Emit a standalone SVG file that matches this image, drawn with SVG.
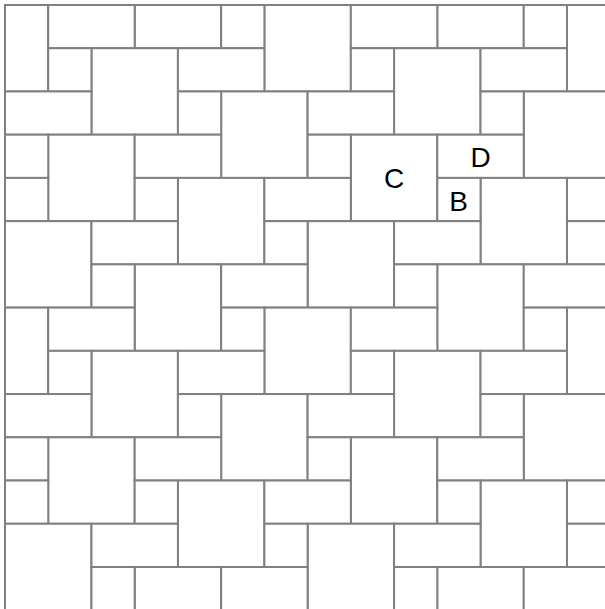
<svg xmlns="http://www.w3.org/2000/svg" xmlns:xlink="http://www.w3.org/1999/xlink" width="605" height="609" viewBox="0 0 605 609">
<style>
.t{fill:#ffffff;stroke:#808080;stroke-width:0.04626}
.b{stroke:#808080;stroke-width:2;fill:none}
.lbl{font-family:"Liberation Sans",Arial,sans-serif;font-size:28px;fill:#000;text-anchor:middle}
</style>
<defs>
<g id="cell" class="t">
<rect x="0" y="0" width="2" height="2"/>
<rect x="-1" y="0" width="1" height="1"/>
<rect x="2" y="0" width="2" height="1"/>
</g>
<clipPath id="clip"><rect x="5" y="5" width="600" height="604"/></clipPath>
</defs>
<rect x="0" y="0" width="605" height="609" fill="#ffffff"/>
<g id="tiles" clip-path="url(#clip)">
<g transform="translate(5,5) scale(43.23)">
<use xlink:href="#cell" x="3" y="-1"/><use xlink:href="#cell" x="10" y="-1"/>
<use xlink:href="#cell" x="-1" y="0"/><use xlink:href="#cell" x="6" y="0"/><use xlink:href="#cell" x="13" y="0"/>
<use xlink:href="#cell" x="2" y="1"/><use xlink:href="#cell" x="9" y="1"/>
<use xlink:href="#cell" x="-2" y="2"/><use xlink:href="#cell" x="5" y="2"/><use xlink:href="#cell" x="12" y="2"/>
<use xlink:href="#cell" x="1" y="3"/><use xlink:href="#cell" x="8" y="3"/>
<use xlink:href="#cell" x="-3" y="4"/><use xlink:href="#cell" x="4" y="4"/><use xlink:href="#cell" x="11" y="4"/>
<use xlink:href="#cell" x="0" y="5"/><use xlink:href="#cell" x="7" y="5"/><use xlink:href="#cell" x="14" y="5"/>
<use xlink:href="#cell" x="3" y="6"/><use xlink:href="#cell" x="10" y="6"/>
<use xlink:href="#cell" x="-1" y="7"/><use xlink:href="#cell" x="6" y="7"/><use xlink:href="#cell" x="13" y="7"/>
<use xlink:href="#cell" x="2" y="8"/><use xlink:href="#cell" x="9" y="8"/>
<use xlink:href="#cell" x="-2" y="9"/><use xlink:href="#cell" x="5" y="9"/><use xlink:href="#cell" x="12" y="9"/>
<use xlink:href="#cell" x="1" y="10"/><use xlink:href="#cell" x="8" y="10"/>
<use xlink:href="#cell" x="-3" y="11"/><use xlink:href="#cell" x="4" y="11"/><use xlink:href="#cell" x="11" y="11"/>
<use xlink:href="#cell" x="0" y="12"/><use xlink:href="#cell" x="7" y="12"/><use xlink:href="#cell" x="14" y="12"/>
<use xlink:href="#cell" x="3" y="13"/><use xlink:href="#cell" x="10" y="13"/>
</g>
</g>
<g id="border">
<line class="b" x1="4" y1="5" x2="605" y2="5"/>
<line class="b" x1="5" y1="4" x2="5" y2="609"/>
</g>
<g id="labels">
<text class="lbl" x="394" y="188">C</text>
<text class="lbl" x="480.5" y="167">D</text>
<text class="lbl" x="458.5" y="210.5">B</text>
</g>
</svg>
